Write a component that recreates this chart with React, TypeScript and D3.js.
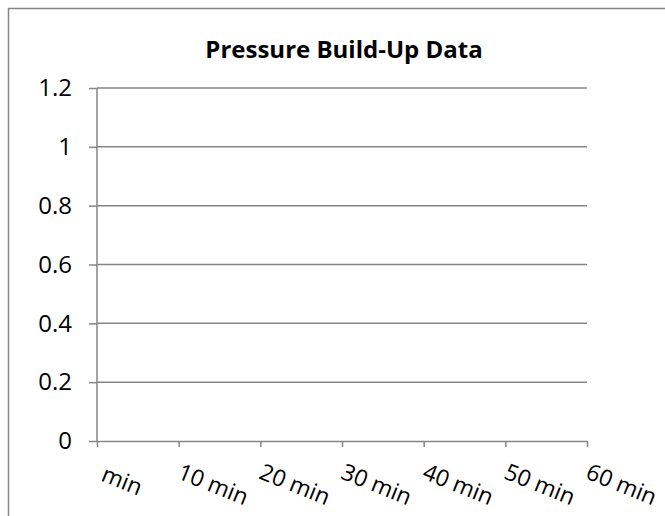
import { useEffect, useRef } from "react";
import * as d3 from "d3";

// chart data (empty chart: only axes and category labels)
const title = "Pressure Build-Up Data";
const categories = [" min", "10 min", "20 min", "30 min", "40 min", "50 min", "60 min"];
const yTicks = [0, 0.2, 0.4, 0.6, 0.8, 1, 1.2];
const yDomain: [number, number] = [0, 1.2];

const FONT = "'Open Sans', 'Noto Sans', sans-serif";
const GRID = "#868686";

export default function App() {
  const ref = useRef<SVGSVGElement>(null);

  useEffect(() => {
    if (!ref.current) return;
    const svg = d3.select(ref.current);
    svg.selectAll("*").remove();

    const left = 97, right = 587, top = 88, bottom = 441;

    const x = d3.scalePoint<string>().domain(categories).range([left, right]);
    const y = d3.scaleLinear().domain(yDomain).range([bottom, top]);

    // outer chart frame
    svg.append("rect")
      .attr("x", 8.5)
      .attr("y", 8.5)
      .attr("width", 700)
      .attr("height", 560)
      .attr("fill", "white")
      .attr("stroke", GRID)
      .attr("stroke-width", 1.5);

    // title
    svg.append("text")
      .attr("x", 344)
      .attr("y", 58)
      .attr("text-anchor", "middle")
      .attr("font-family", FONT)
      .attr("font-weight", "bold")
      .attr("font-size", 24)
      .attr("fill", "#000")
      .text(title);

    // gridlines
    svg.append("g")
      .selectAll("line")
      .data(yTicks.filter(d => d > 0))
      .enter()
      .append("line")
      .attr("x1", left)
      .attr("x2", right)
      .attr("y1", d => y(d))
      .attr("y2", d => y(d))
      .attr("stroke", GRID)
      .attr("stroke-width", 1.5);

    // y axis
    svg.append("g")
      .attr("transform", `translate(${left},0)`)
      .call(d3.axisLeft(y).tickValues(yTicks).tickSize(8).tickPadding(17).tickFormat(d => String(d)))
      .call(g => g.select(".domain").attr("stroke", GRID).attr("stroke-width", 1.5).attr("d", `M0,${top}V${bottom}`))
      .call(g => g.selectAll(".tick line").attr("stroke", GRID).attr("stroke-width", 1.5))
      .call(g => g.selectAll(".tick text")
        .attr("fill", "#000")
        .attr("font-family", FONT)
        .attr("font-size", 24));

    // x axis
    const xAxis = svg.append("g")
      .attr("transform", `translate(0,${bottom})`)
      .call(d3.axisBottom(x).tickSize(6).tickSizeOuter(0).tickFormat(() => ""))
      .call(g => g.select(".domain").attr("stroke", GRID).attr("stroke-width", 1.5))
      .call(g => g.selectAll(".tick line").attr("stroke", GRID).attr("stroke-width", 1.5));

    xAxis.selectAll(".tick")
      .append("text")
      .attr("transform", "translate(-3,37) rotate(22)")
      .attr("text-anchor", "start")
      .attr("fill", "#000")
      .attr("font-family", FONT)
      .attr("font-size", 23)
      .style("white-space", "pre")
      .text(d => d as string);
  }, []);

  return (
    <svg
      ref={ref}
      width={665}
      height={516}
      style={{ position: "absolute", left: 0, top: 0, background: "white" }}
    />
  );
}
